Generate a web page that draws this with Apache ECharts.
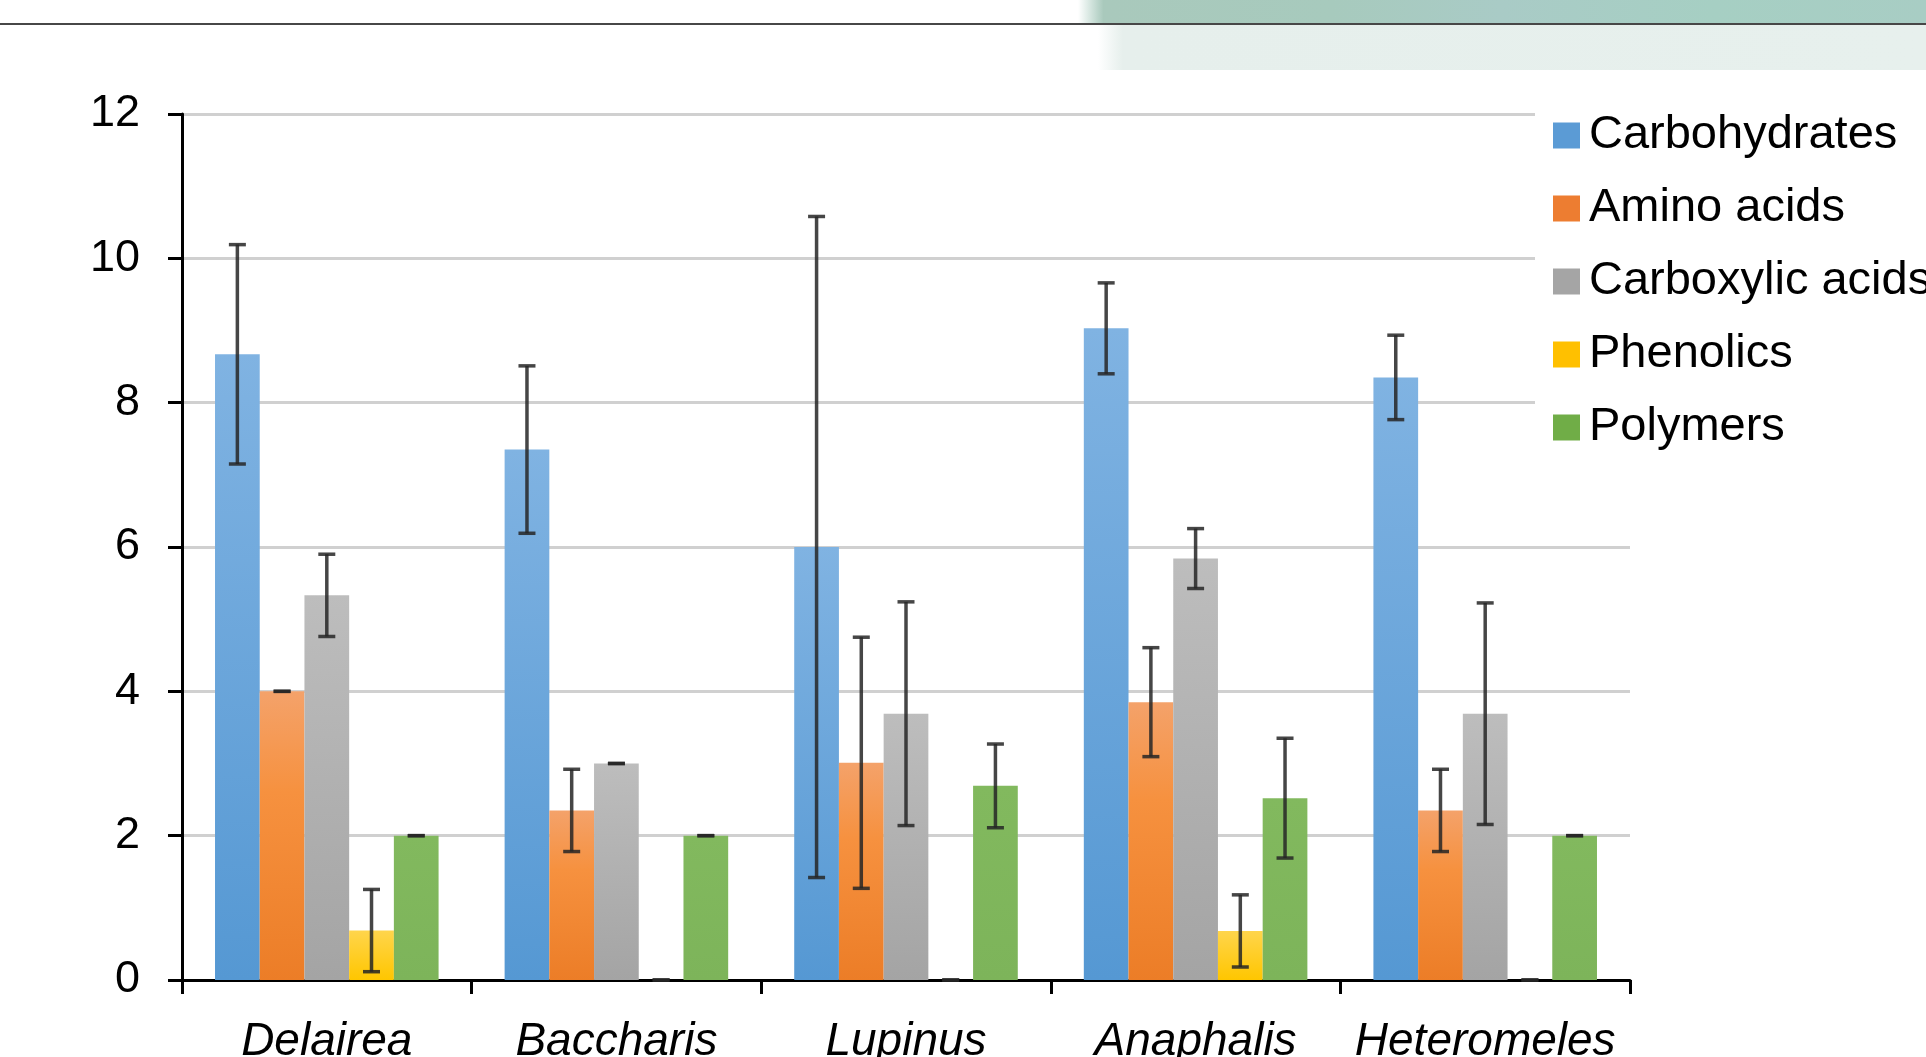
<!DOCTYPE html>
<html>
<head>
<meta charset="utf-8">
<title>Root exudate composition</title>
<script src="https://cdn.jsdelivr.net/npm/echarts@6/dist/echarts.min.js"></script>
<style>
  html, body { margin: 0; padding: 0; background: #ffffff; }
  #chart { width: 1926px; height: 1057px; }
</style>
</head>
<body>
<div id="chart"></div>
<script>
// Plant genera on the category axis
const genera = ['Delairea', 'Baccharis', 'Lupinus', 'Anaphalis', 'Heteromeles'];

// Compound class names (legend order)
const classes = ['Carbohydrates', 'Amino acids', 'Carboxylic acids', 'Phenolics', 'Polymers'];

// Mean values per genus
const carbohydrates   = [8.67, 7.35, 6.00, 9.03, 8.35];
const aminoAcids      = [4.00, 2.35, 3.01, 3.85, 2.35];
const carboxylicAcids = [5.33, 3.00, 3.69, 5.84, 3.69];
const phenolics       = [0.685, 0, 0, 0.68, 0];
const polymers        = [2.00, 2.00, 2.69, 2.52, 2.00];

// Error (± half-range) per genus
const carbohydratesErr   = [1.52, 1.16, 4.58, 0.63, 0.585];
const aminoAcidsErr      = [0, 0.57, 1.74, 0.755, 0.57];
const carboxylicAcidsErr = [0.57, 0, 1.55, 0.415, 1.535];
const phenolicsErr       = [0.57, 0, 0, 0.50, 0];
const polymersErr        = [0, 0, 0.58, 0.83, 0];

// Y axis range and step
const yMin = 0, yMax = 12, yStep = 2;

const means = [carbohydrates, aminoAcids, carboxylicAcids, phenolics, polymers];
const errors = [carbohydratesErr, aminoAcidsErr, carboxylicAcidsErr, phenolicsErr, polymersErr];

// Bar fills: colour stops from top (offset 0) to base (offset 1)
const fillStops = [
  [[0, '#80b3e2'], [1, '#5598d3']],
  [[0, '#f4a26a'], [0.35, '#f6913f'], [1, '#ec7d27']],
  [[0, '#bdbdbd'], [1, '#a4a4a4']],
  [[0, '#ffd54c'], [1, '#ffc600']],
  [[0, '#82b95e'], [1, '#7db45a']]
];
const flat = ['#5b9bd5', '#ed7d31', '#a5a5a5', '#ffc000', '#70ad47'];

const CATEGORY_GAP = 0.228;
const FONT = '"Liberation Sans", Arial, sans-serif';

const chart = echarts.init(document.getElementById('chart'), null, { renderer: 'canvas' });

const barSeries = classes.map((name, k) => ({
  name: name,
  type: 'bar',
  data: means[k],
  barGap: '0%',
  barCategoryGap: (CATEGORY_GAP * 100) + '%',
  itemStyle: {
    color: new echarts.graphic.LinearGradient(0, 0, 0, 1,
      fillStops[k].map(s => ({ offset: s[0], color: s[1] })))
  },
  emphasis: { disabled: true },
  z: 2
}));

const errorSeries = classes.map((name, k) => ({
  name: name + ' error',
  type: 'custom',
  z: 5,
  silent: true,
  data: means[k].map((m, i) => [i, Math.max(0, m - errors[k][i]), m + errors[k][i]]),
  encode: { x: 0, y: [1, 2] },
  renderItem: function (params, api) {
    const cat = api.value(0);
    const lo = api.value(1);
    const hi = api.value(2);
    const band = api.size([1, 0])[0];
    const barW = band * (1 - CATEGORY_GAP) / classes.length;
    const x = api.coord([cat, 0])[0] + (k - (classes.length - 1) / 2) * barW;
    const yLo = api.coord([cat, lo])[1];
    const yHi = api.coord([cat, hi])[1];
    const cap = 8.5;
    const style = { stroke: 'rgba(38,38,38,0.85)', lineWidth: 3.5 };
    return {
      type: 'group',
      children: [
        { type: 'line', shape: { x1: x, y1: yHi, x2: x, y2: yLo }, style: style },
        { type: 'line', shape: { x1: x - cap, y1: yHi, x2: x + cap, y2: yHi }, style: style },
        { type: 'line', shape: { x1: x - cap, y1: yLo, x2: x + cap, y2: yLo }, style: style }
      ]
    };
  }
}));

chart.setOption({
  animation: false,
  backgroundColor: '#ffffff',
  textStyle: { fontFamily: FONT },
  graphic: [
    // banner strip across the top right
    {
      type: 'rect',
      shape: { x: 1078, y: 0, width: 848, height: 24 },
      style: {
        fill: new echarts.graphic.LinearGradient(0, 0, 1, 0, [
          { offset: 0, color: 'rgba(166,203,190,0)' },
          { offset: 0.03, color: '#a9c9bc' },
          { offset: 0.3, color: '#a7cabd' },
          { offset: 0.5, color: '#a9cbc6' },
          { offset: 0.75, color: '#a6cfc3' },
          { offset: 1, color: '#a8cdc4' }
        ])
      },
      z: 0
    },
    {
      type: 'rect',
      shape: { x: 1098, y: 25, width: 828, height: 45 },
      style: {
        fill: new echarts.graphic.LinearGradient(0, 0, 1, 0, [
          { offset: 0, color: 'rgba(230,239,236,0)' },
          { offset: 0.03, color: '#e6efec' },
          { offset: 1, color: '#e7f0ed' }
        ])
      },
      z: 0
    },
    // rule below the header
    {
      type: 'line',
      shape: { x1: 0, y1: 24, x2: 1926, y2: 24 },
      style: { stroke: '#474747', lineWidth: 2 },
      z: 1
    }
  ],
  grid: {
    left: 182,
    right: 296,
    top: 114,
    bottom: 77,
    containLabel: false,
    outerBoundsMode: 'none'
  },
  legend: {
    orient: 'vertical',
    left: 1535,
    top: 102,
    padding: [10, 18, 12, 18],
    backgroundColor: '#ffffff',
    itemWidth: 27,
    itemHeight: 26,
    itemGap: 26,
    icon: 'rect',
    selectedMode: false,
    data: classes.map((n, k) => ({ name: n, itemStyle: { color: flat[k] } })),
    textStyle: {
      fontFamily: FONT,
      fontSize: 47,
      lineHeight: 47,
      color: '#000000',
      padding: [0, 0, 0, 4]
    },
    z: 10
  },
  xAxis: {
    type: 'category',
    data: genera,
    axisLine: { show: true, lineStyle: { color: '#000000', width: 3 } },
    axisTick: { show: true, interval: 0, length: 14, lineStyle: { color: '#000000', width: 3 } },
    axisLabel: {
      interval: 0,
      fontFamily: FONT,
      fontSize: 46,
      fontStyle: 'italic',
      color: '#000000',
      margin: 39
    },
    splitLine: { show: false }
  },
  yAxis: {
    type: 'value',
    min: yMin,
    max: yMax,
    interval: yStep,
    axisLine: { show: true, lineStyle: { color: '#000000', width: 3 } },
    axisTick: { show: true, length: 14, lineStyle: { color: '#000000', width: 3 } },
    axisLabel: {
      fontFamily: FONT,
      fontSize: 45,
      color: '#000000',
      margin: 42
    },
    splitLine: { show: true, lineStyle: { color: '#d0d0d0', width: 3 } }
  },
  series: barSeries.concat(errorSeries)
});
</script>
</body>
</html>
